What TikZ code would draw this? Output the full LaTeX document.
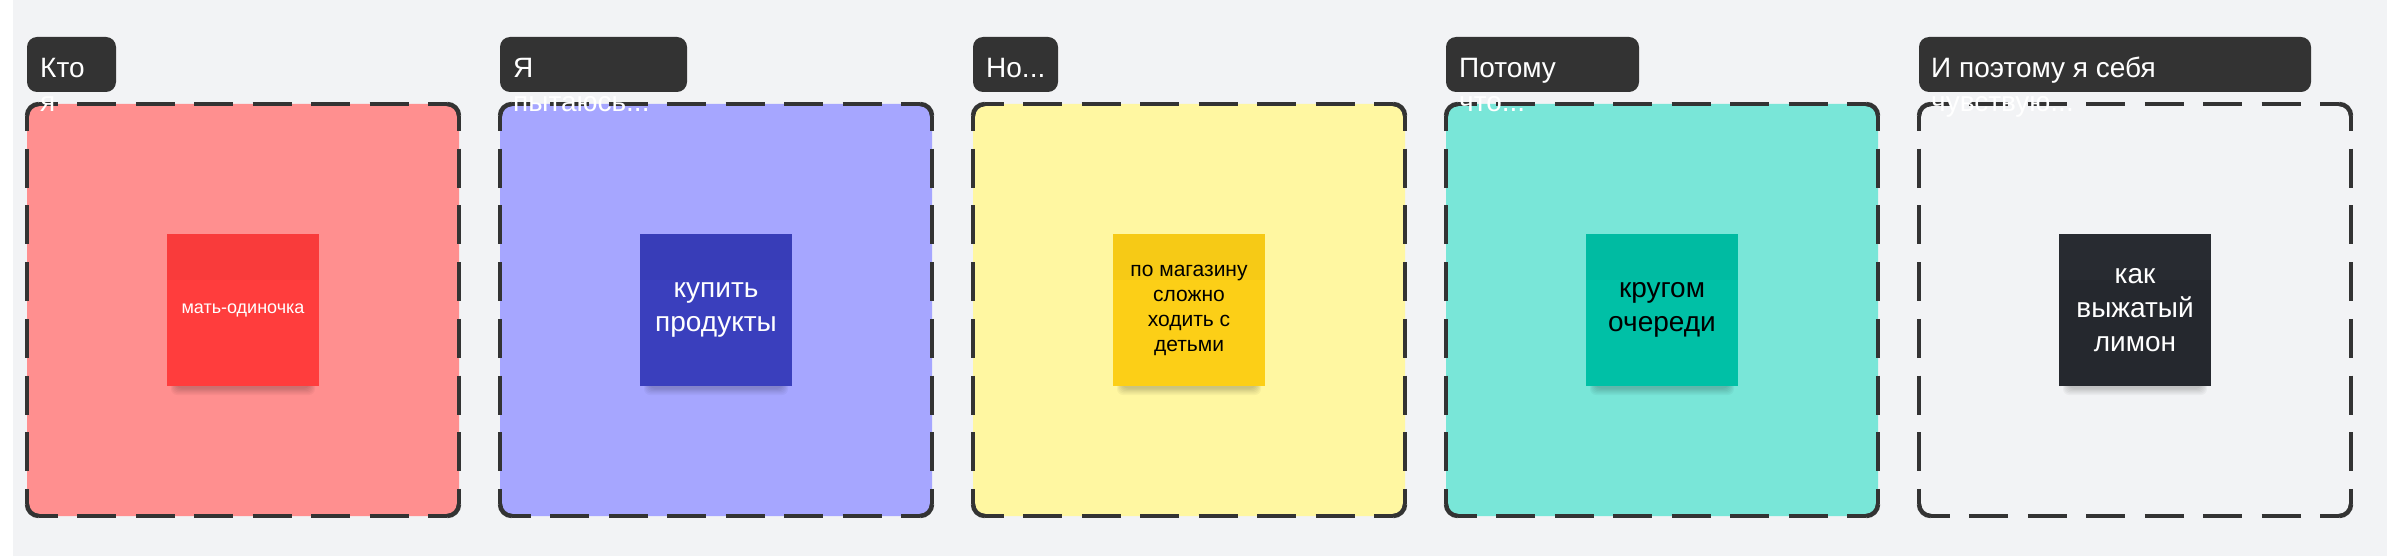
\documentclass[tikz,border=0pt]{standalone}
\usepackage{fontspec}
\setmainfont{Liberation Sans}
\definecolor{bg}{HTML}{F2F3F5}
\definecolor{titlegray}{HTML}{333333}
\definecolor{bordergray}{HTML}{333333}
\definecolor{fpink}{HTML}{FF8F8F}
\definecolor{flav}{HTML}{A6A6FF}
\definecolor{fyellow}{HTML}{FFF7A1}
\definecolor{fteal}{HTML}{79E6D8}
\definecolor{nred}{HTML}{FF3D3D}
\definecolor{nblue}{HTML}{3A3FBD}
\definecolor{nyellow}{HTML}{FCCF17}
\definecolor{nteal}{HTML}{00C0A6}
\definecolor{ndark}{HTML}{25282E}
\newcommand\myframe[2]{%
  \pgfmathsetmacro\fL{#1}%
  \pgfmathsetmacro\fR{#1+432}%
  \fill[#2, rounded corners=12pt] (\fL,104) rectangle (\fR,516);
}
\newcommand\myborder[1]{%
  \pgfmathsetmacro\fL{#1}%
  \pgfmathsetmacro\fR{#1+432}%
  \draw[border, rounded corners=12pt] (\fL,116) -- (\fL,104) -- (\fL+12,104);
  \draw[border, rounded corners=12pt] (\fR-12,104) -- (\fR,104) -- (\fR,116);
  \draw[border, rounded corners=12pt] (\fR,504) -- (\fR,516) -- (\fR-12,516);
  \draw[border, rounded corners=12pt] (\fL+12,516) -- (\fL,516) -- (\fL,504);
  \draw[hside] (\fL+12,104) -- (\fR-12,104);
  \draw[hside] (\fL+12,516) -- (\fR-12,516);
  \draw[vside] (\fL,116) -- (\fL,504);
  \draw[vside] (\fR,116) -- (\fR,504);
}
\newcommand\myshadow[1]{%
  \foreach \k in {0,...,5}{%
    \fill[black, opacity=0.035, rounded corners=6pt] (#1-72+\k,300) rectangle (#1+72-\k,395-1.3*\k);
  }%
}
\begin{document}
\begin{tikzpicture}[x=1pt,y=-1pt,
  titlebox/.style={fill=titlegray, rounded corners=10pt},
  titletext/.style={text=white, font=\fontsize{28}{34}\selectfont, anchor=base west, inner sep=0pt},
  border/.style={draw=bordergray, line width=4.5pt},
  hside/.style={border, dash pattern=on 39pt off 19.43pt, dash phase=20pt},
  vside/.style={border, dash pattern=on 39pt off 17.7pt, dash phase=24pt},
  note/.style={minimum width=152pt, minimum height=152pt, inner sep=0pt, align=center, outer sep=0pt},
  bigtext/.style={font=\fontsize{28}{34}\selectfont},
]
\useasboundingbox (0,0) rectangle (2400,556);
\fill[white] (0,0) rectangle (2400,556);
\fill[bg] (13,0) rectangle (2387,556);

% frames
\myframe{27}{fpink}
\myframe{500}{flav}
\myframe{973}{fyellow}
\myframe{1446}{fteal}
\myframe{1919}{bg}

% borders
\myborder{27}
\myborder{500}
\myborder{973}
\myborder{1446}
\myborder{1919}

% title boxes
\fill[titlebox] (27,37) rectangle (116,92);
\fill[titlebox] (500,37) rectangle (687,92);
\fill[titlebox] (973,37) rectangle (1058,92);
\fill[titlebox] (1446,37) rectangle (1639,92);
\fill[titlebox] (1919,37) rectangle (2311,92);

% title texts
\node[titletext] (t1a) at (40,78) {Кто};
\node[titletext] (t1b) at (40,112) {я};
\node[titletext] (t2a) at (513,78) {Я};
\node[titletext] (t2b) at (513,112) {пытаюсь...};
\node[titletext] (t3a) at (986,78) {Но...};
\node[titletext] (t4a) at (1459,78) {Потому};
\node[titletext] (t4b) at (1459,112) {что...};
\node[titletext] (t5a) at (1931,78) {И поэтому я себя};
\node[titletext] (t5b) at (1931,112) {чувствую...};

% shadows
\myshadow{243}
\myshadow{716}
\myshadow{1189}
\myshadow{1662}
\myshadow{2135}

% notes
\node[note, fill=nred, text=white, font=\fontsize{18}{22}\selectfont] (n1) at (243,310) {мать-одиночка};
\node[note, fill=nblue, text=white, bigtext] (n2) at (716,310) {купить\\продукты};
\node[note, fill=nyellow, text=black, font=\fontsize{21}{25}\selectfont] (n3) at (1189,310) {по магазину\\сложно\\ходить с\\детьми};
\node[note, fill=nteal, text=black, bigtext] (n4) at (1662,310) {кругом\\очереди};
\node[note, fill=ndark, text=white, bigtext] (n5) at (2135,310) {как\\выжатый\\лимон};

% subtle top bands of the notes
\foreach \c in {243,716,1189,1662}{
  \fill[black, opacity=0.025] (\c-76,234) rectangle (\c+76,280);
}
\fill[white, opacity=0.015] (2135-76,234) rectangle (2135+76,280);
\end{tikzpicture}
\end{document}
